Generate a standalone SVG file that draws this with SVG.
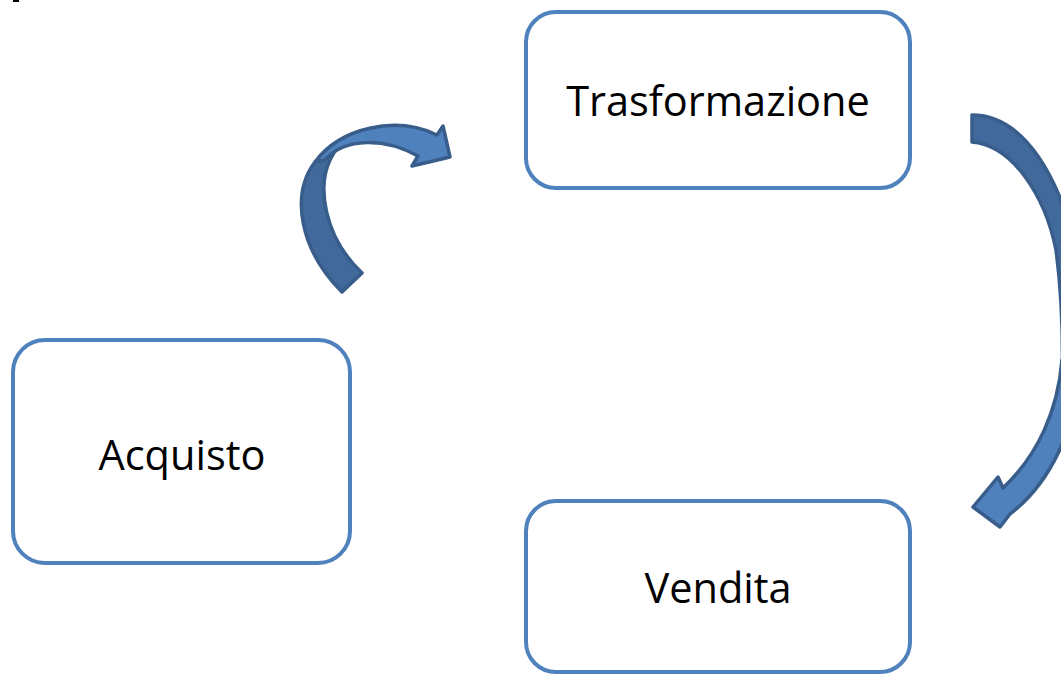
<svg xmlns="http://www.w3.org/2000/svg" width="1061" height="675" viewBox="0 0 1061 675">
<style>
.box{fill:#fff;stroke:#4F81BD;stroke-width:4}
.lbl{font-family:"Open Sans","Liberation Sans",sans-serif;font-size:41.5px;fill:#000;text-anchor:middle}
.light{fill:#4F81BD;stroke:#385D8A;stroke-width:3.5;stroke-linejoin:round}
.dark{fill:#41699C;stroke:#385D8A;stroke-width:3.5;stroke-linejoin:round}
</style>
<rect width="1061" height="675" fill="#fff"/>
<rect x="13" y="0" width="6" height="2" fill="#000"/>
<g id="connectors">
<g id="arrow1">
<path class="dark" d="M 342 292 C 300 250 290 195 315 162 L 340 142 L 330 160 C 318 185 322 235 362 273 Z"/>
<path class="light" d="M 315 162 C 340 128 395 115 437 135 L 443 126 L 450 157 L 412 166 L 418 156 C 385 138 345 137 325 160 Z"/>
</g>
<g id="arrow2">
<path class="dark" d="M 972 115 C 1025 115 1062 180 1078 260 L 1078 390 L 1062 390 C 1064 320 1060 280 1056 250 C 1045 195 1012 145 972 142 Z"/>
<path class="light" d="M 1003 488 C 1038 455 1058 410 1062 360 L 1080 360 C 1078 430 1048 485 1010 514 L 1000 527 L 973 507 L 998 477 Z"/>
</g>
</g>
<g id="node-trasformazione">
<rect class="box" x="526" y="12" width="384" height="176" rx="30"/>
<text class="lbl" x="718" y="116">Trasformazione</text>
</g>
<g id="node-acquisto">
<rect class="box" x="13" y="340" width="337" height="223" rx="32"/>
<text class="lbl" x="182" y="470">Acquisto</text>
</g>
<g id="node-vendita">
<rect class="box" x="526" y="501" width="384" height="171" rx="30"/>
<text class="lbl" x="718" y="603">Vendita</text>
</g>
</svg>
